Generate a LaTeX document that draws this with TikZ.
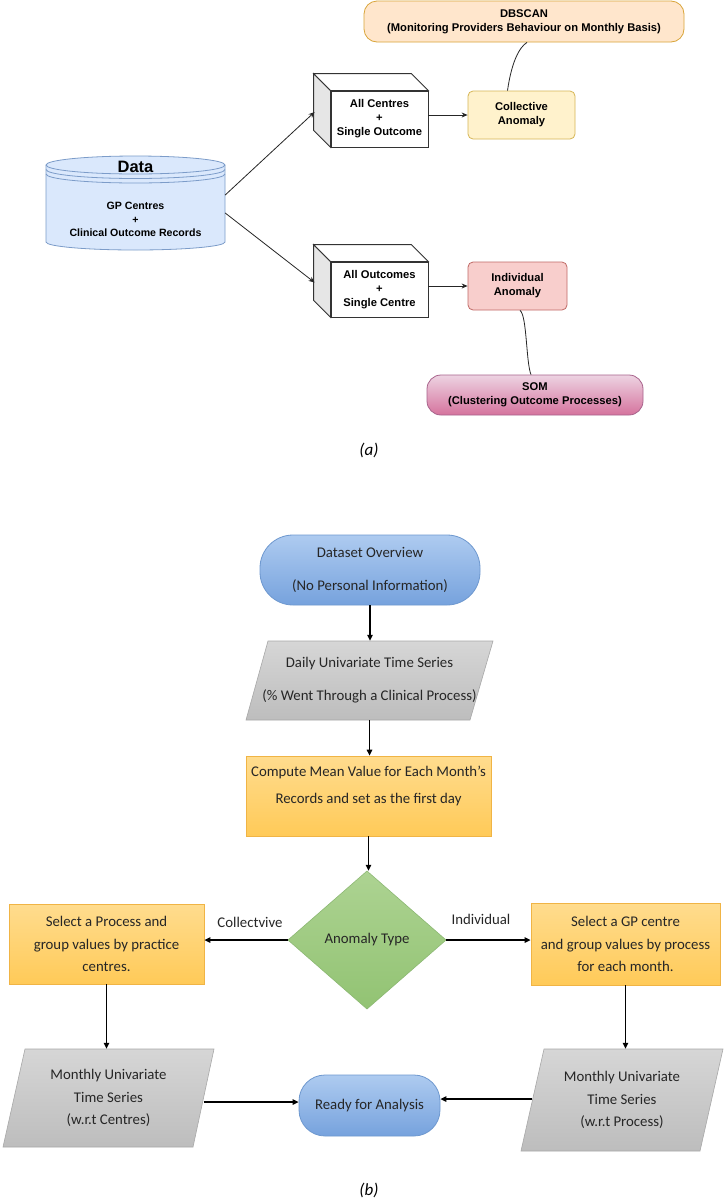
\documentclass[tikz,border=0pt]{standalone}
\usepackage{fontspec}
\setmainfont{Carlito}
\newfontfamily\arialfont{Liberation Sans}
\usetikzlibrary{arrows.meta,shapes.geometric}
\definecolor{dbFill}{HTML}{FFE6CC}\definecolor{dbLine}{HTML}{D9A53A}
\definecolor{colFill}{HTML}{FFF2CC}\definecolor{colLine}{HTML}{D6B656}
\definecolor{indFill}{HTML}{F8CECC}\definecolor{indLine}{HTML}{C06A66}
\definecolor{somTop}{HTML}{EDD3E2}\definecolor{somBot}{HTML}{D5739D}\definecolor{somLine}{HTML}{A8638C}
\definecolor{dataFill}{HTML}{DAE8FC}\definecolor{dataLine}{HTML}{7C9CC9}
\definecolor{cubeSide}{HTML}{E6E6E6}\definecolor{cubeLine}{HTML}{333333}
\definecolor{blueTop}{HTML}{AECBF0}\definecolor{blueBot}{HTML}{76A2DD}\definecolor{blueLine}{HTML}{6E98CF}
\definecolor{grayTop}{HTML}{D6D6D6}\definecolor{grayBot}{HTML}{BDBDBD}\definecolor{grayLine}{HTML}{A8A8A8}
\definecolor{orTop}{HTML}{FFDC8E}\definecolor{orBot}{HTML}{FFCA58}\definecolor{orLine}{HTML}{F0B445}
\definecolor{grTop}{HTML}{ADD392}\definecolor{grBot}{HTML}{92C373}\definecolor{grLine}{HTML}{8CB873}
\definecolor{txtB}{HTML}{262626}
\begin{document}
\begin{tikzpicture}[x=1pt,y=-1pt,
  afont/.style={font=\arialfont\bfseries\fontsize{11.2}{14}\selectfont, align=center, text=black},
  bfont/.style={font=\fontsize{14.8}{22.5}\selectfont, align=center, text=txtB},
  aline/.style={line width=0.8pt, draw=black!85},
  aarrow/.style={aline, -{Stealth[length=6pt,width=5pt]}},
  barrow/.style={line width=1.3pt, draw=black, -{Triangle[length=6pt,width=5.5pt]}},
  cubefront/.style={afont, draw=cubeLine, line width=0.8pt, fill=white, minimum width=97, minimum height=56, inner sep=0},
  cubeedge/.style={draw=cubeLine, line width=0.8pt},
  ghost/.style={inner sep=0, draw=none},
]
\useasboundingbox (0,0) rectangle (728,1200);
\fill[white] (0,0) rectangle (728,1200);

% ---------------- (a) ----------------
% cylinder
\draw[draw=dataLine, fill=dataFill, line width=0.8pt] (46,165) -- (46,242)
  arc[start angle=180,end angle=360,x radius=89.5pt,y radius=8pt] -- (225,165)
  arc[start angle=0,end angle=180,x radius=89.5pt,y radius=9pt] -- cycle;
\foreach \dy in {0,4.5,9}
  \draw[draw=dataLine, line width=0.8pt] (46,165+\dy) arc[start angle=180,end angle=360,x radius=89.5pt,y radius=9pt];
\node[ghost, minimum width=179, minimum height=94] (data) at (135.5,203) {};
\node[font=\arialfont\bfseries\fontsize{16.5}{18}\selectfont] (datatitle) at (135.5,167) {Data};
\node[afont, font=\arialfont\bfseries\fontsize{10.6}{13.5}\selectfont] (datatext) at (135.5,219.5) {GP Centres\\+\\Clinical Outcome Records};

% DBSCAN
\node[afont, draw=dbLine, fill=dbFill, line width=0.8pt, rounded corners=13, minimum width=320, minimum height=41, inner sep=0] (dbscan) at (524,21.5) {DBSCAN\\(Monitoring Providers Behaviour on Monthly Basis)};

% cube 1
\node[cubefront] (cube1) at (379.5,119) {All Centres\\+\\Single Outcome};
\draw[cubeedge, fill=cubeSide] (cube1.north west) -- ++(-17,-17) -- ([xshift=-17pt,yshift=17pt]cube1.south west) -- (cube1.south west) -- cycle;
\draw[cubeedge, fill=white] (cube1.north west) -- ++(-17,-17) -- ([xshift=-17pt,yshift=17pt]cube1.north east) -- (cube1.north east) -- cycle;

% cube 2
\node[cubefront, minimum height=55] (cube2) at (379.5,289.5) {All Outcomes\\+\\Single Centre};
\draw[cubeedge, fill=cubeSide] (cube2.north west) -- ++(-17,-17) -- ([xshift=-17pt,yshift=17pt]cube2.south west) -- (cube2.south west) -- cycle;
\draw[cubeedge, fill=white] (cube2.north west) -- ++(-17,-17) -- ([xshift=-17pt,yshift=17pt]cube2.north east) -- (cube2.north east) -- cycle;

% anomalies
\node[afont, draw=colLine, fill=colFill, line width=0.8pt, rounded corners=5, minimum width=107, minimum height=48, inner sep=0] (coll) at (521.5,115) {Collective\\Anomaly};
\node[afont, draw=indLine, fill=indFill, line width=0.8pt, rounded corners=5, minimum width=99, minimum height=48, inner sep=0] (ind) at (517.5,286) {Individual\\Anomaly};
\node[afont, draw=somLine, top color=somTop, bottom color=somBot, line width=0.8pt, rounded corners=14, minimum width=216, minimum height=40, inner sep=0] (som) at (535,395) {SOM\\(Clustering Outcome Processes)};

% connectors (a)
\draw[aarrow] ([yshift=8pt]data.east) -- ([xshift=-16pt,yshift=7pt]cube1.west);
\draw[aarrow] ([yshift=-10pt]data.east) -- ([xshift=-16pt,yshift=7pt]cube2.west);
\draw[aarrow] (cube1.east |- coll.west) -- (coll.west);
\draw[aarrow] (cube2.east |- ind.west) -- (ind.west);
\draw[aline] ([xshift=3pt]dbscan.south) .. controls +(-8,5) and +(4,-28) .. ([xshift=-14pt]coll.north);
\draw[aline] ([xshift=2.5pt]ind.south) .. controls +(7,5) and +(-5,-12) .. ([xshift=-4pt]som.north);

\node[font=\itshape\fontsize{17}{20}\selectfont] (capa) at (369,450) {(a)};

% ---------------- (b) ----------------
\node[bfont, draw=blueLine, top color=blueTop, bottom color=blueBot, line width=0.8pt, rounded corners=33, minimum width=220, minimum height=70, inner sep=0, font=\fontsize{14.8}{33}\selectfont] (overview) at (370,570) {Dataset Overview\\(No Personal Information)};

\shade[top color=grayTop, bottom color=grayBot, draw=grayLine, line width=0.6pt] (268,641) -- (493,641) -- (470,720) -- (246,720) -- cycle;
\node[bfont, ghost, minimum width=224, minimum height=79, font=\fontsize{14.8}{33}\selectfont] (daily) at (369.5,680.5) {Daily Univariate Time Series\\(\% Went Through a Clinical Process)};

\node[ghost, draw=orLine, top color=orTop, bottom color=orBot, line width=0.8pt, minimum width=245, minimum height=80] (compute) at (368.5,796) {};
\node[bfont, font=\fontsize{14.8}{27}\selectfont] (computetext) at (368.5,786) {Compute Mean Value for Each Month's\\Records and set as the first day};

\shade[top color=grTop, bottom color=grBot, draw=grLine, line width=0.6pt] (367,871) -- (446,940) -- (367,1009) -- (288,940) -- cycle;
\node[bfont, ghost, minimum width=158, minimum height=138] (atype) at (367,940) {Anomaly Type};

\node[bfont, draw=orLine, top color=orTop, bottom color=orBot, line width=0.8pt, minimum width=195, minimum height=80, inner sep=0] (lbox) at (106.5,944) {Select a Process and\\group values by practice\\centres.};
\node[bfont, draw=orLine, top color=orTop, bottom color=orBot, line width=0.8pt, minimum width=189, minimum height=82, inner sep=0] (rbox) at (625.5,944) {Select a GP centre\\and group values by process\\for each month.};

\node[bfont] (lcoll) at (250,922) {Collectvive};
\node[bfont] (lind) at (481,919) {Individual};

\shade[top color=grayTop, bottom color=grayBot, draw=grayLine, line width=0.6pt] (25,1049) -- (214,1049) -- (193,1147) -- (3,1147) -- cycle;
\node[bfont, ghost, minimum width=190, minimum height=98] (lpara) at (108.5,1098) {Monthly Univariate\\Time Series\\(w.r.t Centres)};
\shade[top color=grayTop, bottom color=grayBot, draw=grayLine, line width=0.6pt] (544,1049) -- (723,1049) -- (700,1151) -- (521,1151) -- cycle;
\node[bfont, ghost, minimum width=179, minimum height=102] (rpara) at (622,1100) {Monthly Univariate\\Time Series\\(w.r.t Process)};

\node[bfont, draw=blueLine, top color=blueTop, bottom color=blueBot, line width=0.8pt, rounded corners=26, minimum width=141, minimum height=61, inner sep=0] (ready) at (369.5,1105.5) {Ready for Analysis};

% connectors (b)
\draw[barrow] (overview.south) -- (overview.south |- daily.north);
\draw[barrow] (daily.south) -- (daily.south |- compute.north);
\draw[barrow] (compute.south) -- (compute.south |- atype.north);
\draw[barrow] (atype.west) -- (lbox.east |- atype.west);
\draw[barrow] (atype.east) -- (rbox.west |- atype.east);
\draw[barrow] (lbox.south) -- (lbox.south |- lpara.north);
\draw[barrow] (rbox.south) -- (rbox.south |- rpara.north);
\draw[barrow] ([yshift=-4pt]lpara.east) -- ([yshift=-4pt]lpara.east -| ready.west);
\draw[barrow] ([yshift=1pt]rpara.west) -- ([yshift=1pt]rpara.west -| ready.east);

\node[font=\itshape\fontsize{17}{20}\selectfont] (capb) at (369,1190) {(b)};
\end{tikzpicture}
\end{document}
